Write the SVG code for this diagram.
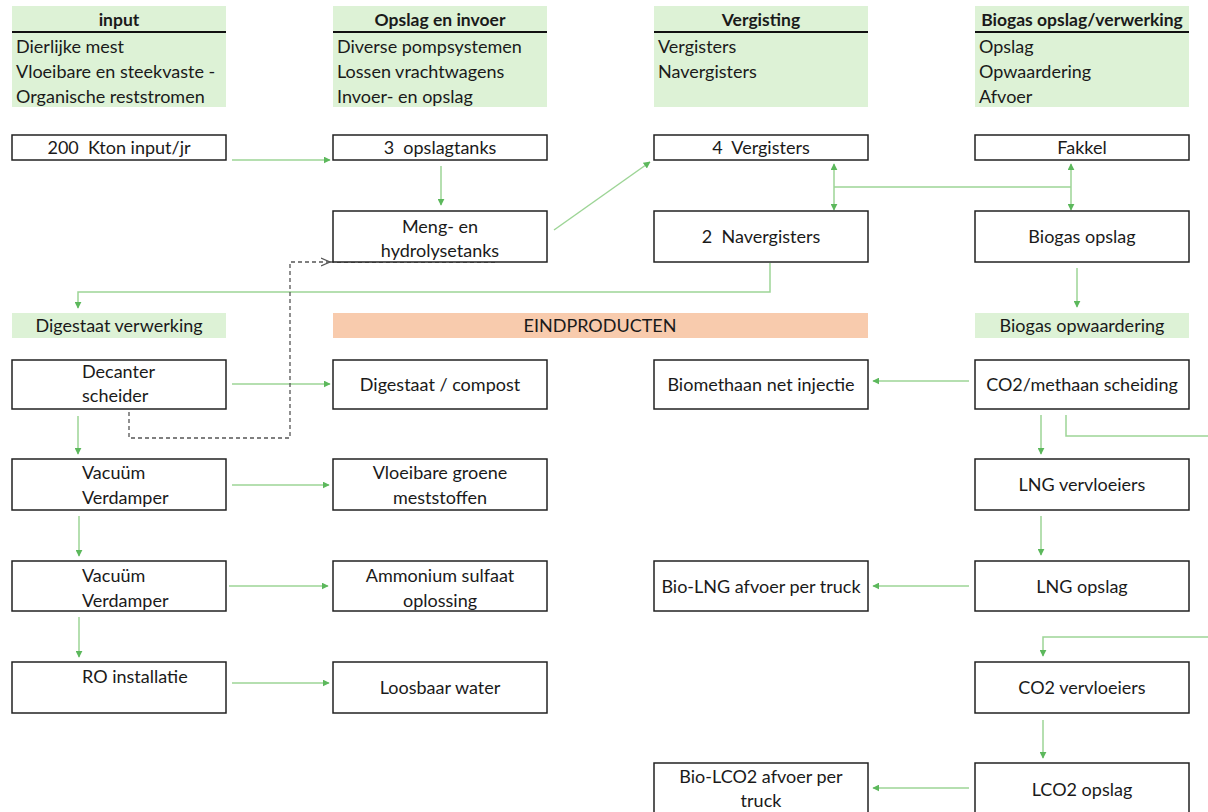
<svg xmlns="http://www.w3.org/2000/svg" width="1208" height="812" viewBox="0 0 1208 812">
  <style>
    text { font-family: Lato, "Open Sans", "Liberation Sans", sans-serif; font-size: 18px; fill: #1a1a1a; white-space: pre; }
    .c { text-anchor: middle; }
    .b { font-weight: bold; font-size: 17.5px; }
    .band { fill: #ddf2d6; }
    .band2 { fill: #f8cbad; }
    .rule { stroke: #111; stroke-width: 2; }
    .box { fill: #fff; stroke: #222; stroke-width: 1.5; }
    .flow { fill: none; stroke: #9dd596; stroke-width: 1.5; }
    .dash { fill: none; stroke: #555; stroke-width: 1.3; stroke-dasharray: 4 3; }
  </style>
  <defs>
    <marker id="ah" viewBox="0 0 10 10" refX="9" refY="5" markerWidth="7" markerHeight="7" orient="auto-start-reverse" markerUnits="userSpaceOnUse">
      <path d="M0,0 L10,5 L0,10 z" fill="#5cb85c"/>
    </marker>
    <marker id="open" viewBox="0 0 10 10" refX="9" refY="5" markerWidth="10" markerHeight="10" orient="auto" markerUnits="userSpaceOnUse">
      <path d="M0,1 L9,5 L0,9" fill="none" stroke="#555" stroke-width="1.2"/>
    </marker>
  </defs>

  <rect width="1208" height="812" fill="#fff"/>

  <!-- column headers -->
  <g id="hdr-input">
    <rect class="band" x="12" y="6" width="214" height="101"/>
    <text class="c b" x="119" y="26">input</text>
    <line class="rule" x1="12" y1="32" x2="226" y2="32"/>
    <text x="16" y="53">Dierlijke mest</text>
    <text x="16" y="78">Vloeibare en steekvaste -</text>
    <text x="16" y="103">Organische reststromen</text>
  </g>
  <g id="hdr-opslag">
    <rect class="band" x="333" y="6" width="214" height="101"/>
    <text class="c b" x="440" y="26">Opslag en invoer</text>
    <line class="rule" x1="333" y1="32" x2="547" y2="32"/>
    <text x="337" y="53">Diverse pompsystemen</text>
    <text x="337" y="78">Lossen vrachtwagens</text>
    <text x="337" y="103">Invoer- en opslag</text>
  </g>
  <g id="hdr-vergisting">
    <rect class="band" x="654" y="6" width="214" height="101"/>
    <text class="c b" x="761" y="26">Vergisting</text>
    <line class="rule" x1="654" y1="32" x2="868" y2="32"/>
    <text x="658" y="53">Vergisters</text>
    <text x="658" y="78">Navergisters</text>
  </g>
  <g id="hdr-biogas">
    <rect class="band" x="975" y="6" width="214" height="101"/>
    <text class="c b" x="1082" y="26">Biogas opslag/verwerking</text>
    <line class="rule" x1="975" y1="32" x2="1189" y2="32"/>
    <text x="979" y="53">Opslag</text>
    <text x="979" y="78">Opwaardering</text>
    <text x="979" y="103">Afvoer</text>
  </g>

  <!-- section headers -->
  <g id="hdr-digestaat">
    <rect class="band" x="12" y="313" width="214" height="25"/>
    <text class="c" x="119" y="332">Digestaat verwerking</text>
  </g>
  <g id="hdr-eindproducten">
    <rect class="band2" x="333" y="313" width="535" height="25"/>
    <text class="c" x="600" y="332">EINDPRODUCTEN</text>
  </g>
  <g id="hdr-opwaardering">
    <rect class="band" x="975" y="313" width="214" height="25"/>
    <text class="c" x="1082" y="332">Biogas opwaardering</text>
  </g>

  <!-- connectors -->
  <g id="connectors">
    <line class="flow" x1="232" y1="160" x2="330" y2="160" marker-end="url(#ah)"/>
    <line class="flow" x1="441" y1="166" x2="441" y2="205" marker-end="url(#ah)"/>
    <line class="flow" x1="554" y1="230" x2="650" y2="162" marker-end="url(#ah)"/>
    <line class="flow" x1="834" y1="164" x2="834" y2="210" marker-start="url(#ah)" marker-end="url(#ah)"/>
    <line class="flow" x1="834" y1="187" x2="1071" y2="187"/>
    <line class="flow" x1="1071" y1="164" x2="1071" y2="210" marker-start="url(#ah)" marker-end="url(#ah)"/>
    <polyline class="flow" points="770,263 770,292 78,292 78,308" marker-end="url(#ah)"/>
    <line class="flow" x1="1077" y1="268" x2="1077" y2="307" marker-end="url(#ah)"/>
    <line class="flow" x1="232" y1="384" x2="330" y2="384" marker-end="url(#ah)"/>
    <polyline class="dash" points="129,412 129,438 290,438 290,262 330,262" marker-end="url(#open)"/>
    <line class="dash" x1="330" y1="262" x2="498" y2="262"/>
    <line class="flow" x1="78" y1="416" x2="78" y2="454" marker-end="url(#ah)"/>
    <line class="flow" x1="232" y1="485" x2="329" y2="485" marker-end="url(#ah)"/>
    <line class="flow" x1="79" y1="516" x2="79" y2="556" marker-end="url(#ah)"/>
    <line class="flow" x1="229" y1="586" x2="328" y2="586" marker-end="url(#ah)"/>
    <line class="flow" x1="79" y1="617" x2="79" y2="657" marker-end="url(#ah)"/>
    <line class="flow" x1="232" y1="683" x2="329" y2="683" marker-end="url(#ah)"/>
    <line class="flow" x1="969" y1="381" x2="873" y2="381" marker-end="url(#ah)"/>
    <line class="flow" x1="1041" y1="415" x2="1041" y2="454" marker-end="url(#ah)"/>
    <polyline class="flow" points="1066,415 1066,436 1208,436"/>
    <line class="flow" x1="1041" y1="516" x2="1041" y2="555" marker-end="url(#ah)"/>
    <line class="flow" x1="969" y1="586" x2="873" y2="586" marker-end="url(#ah)"/>
    <polyline class="flow" points="1208,637 1043,637 1043,656" marker-end="url(#ah)"/>
    <line class="flow" x1="1043" y1="720" x2="1043" y2="758" marker-end="url(#ah)"/>
    <line class="flow" x1="969" y1="788" x2="873" y2="788" marker-end="url(#ah)"/>
  </g>

  <!-- nodes -->
  <g id="n-input"><rect class="box" x="12" y="135" width="214" height="25"/><text class="c" x="119" y="154">200  Kton input/jr</text></g>
  <g id="n-opslagtanks"><rect class="box" x="333" y="135" width="214" height="25"/><text class="c" x="440" y="154">3  opslagtanks</text></g>
  <g id="n-vergisters"><rect class="box" x="654" y="135" width="214" height="25"/><text class="c" x="761" y="154">4  Vergisters</text></g>
  <g id="n-fakkel"><rect class="box" x="975" y="135" width="214" height="25"/><text class="c" x="1082" y="154">Fakkel</text></g>

  <g id="n-meng"><rect class="box" x="333" y="211" width="214" height="51"/><text class="c" x="440" y="233">Meng- en</text><text class="c" x="440" y="257">hydrolysetanks</text></g>
  <g id="n-navergisters"><rect class="box" x="654" y="211" width="214" height="51"/><text class="c" x="761" y="243">2  Navergisters</text></g>
  <g id="n-biogasopslag"><rect class="box" x="975" y="211" width="214" height="51"/><text class="c" x="1082" y="243">Biogas opslag</text></g>

  <g id="n-decanter"><rect class="box" x="12" y="360" width="214" height="49"/><text x="82" y="378">Decanter</text><text x="82" y="402">scheider</text></g>
  <g id="n-compost"><rect class="box" x="333" y="360" width="214" height="49"/><text class="c" x="440" y="391">Digestaat / compost</text></g>
  <g id="n-biomethaan"><rect class="box" x="654" y="360" width="214" height="49"/><text class="c" x="761" y="391">Biomethaan net injectie</text></g>
  <g id="n-scheiding"><rect class="box" x="975" y="360" width="214" height="49"/><text class="c" x="1082" y="391">CO2/methaan scheiding</text></g>

  <g id="n-vacuum1"><rect class="box" x="12" y="459" width="214" height="51"/><text x="82" y="479">Vacuüm</text><text x="82" y="504">Verdamper</text></g>
  <g id="n-meststoffen"><rect class="box" x="333" y="459" width="214" height="51"/><text class="c" x="440" y="479">Vloeibare groene</text><text class="c" x="440" y="504">meststoffen</text></g>
  <g id="n-lngvervloeiers"><rect class="box" x="975" y="459" width="214" height="51"/><text class="c" x="1082" y="491">LNG vervloeiers</text></g>

  <g id="n-vacuum2"><rect class="box" x="12" y="561" width="214" height="50"/><text x="82" y="582">Vacuüm</text><text x="82" y="607">Verdamper</text></g>
  <g id="n-ammonium"><rect class="box" x="333" y="561" width="214" height="50"/><text class="c" x="440" y="582">Ammonium sulfaat</text><text class="c" x="440" y="607">oplossing</text></g>
  <g id="n-biolng"><rect class="box" x="654" y="561" width="214" height="50"/><text class="c" x="761" y="593">Bio-LNG afvoer per truck</text></g>
  <g id="n-lngopslag"><rect class="box" x="975" y="561" width="214" height="50"/><text class="c" x="1082" y="593">LNG opslag</text></g>

  <g id="n-ro"><rect class="box" x="12" y="662" width="214" height="51"/><text x="82" y="683">RO installatie</text></g>
  <g id="n-water"><rect class="box" x="333" y="662" width="214" height="51"/><text class="c" x="440" y="694">Loosbaar water</text></g>
  <g id="n-co2vervloeiers"><rect class="box" x="975" y="662" width="214" height="51"/><text class="c" x="1082" y="694">CO2 vervloeiers</text></g>

  <g id="n-biolco2"><rect class="box" x="654" y="763" width="214" height="60"/><text class="c" x="761" y="783">Bio-LCO2 afvoer per</text><text class="c" x="761" y="807">truck</text></g>
  <g id="n-lco2opslag"><rect class="box" x="975" y="763" width="214" height="60"/><text class="c" x="1082" y="796">LCO2 opslag</text></g>
</svg>
